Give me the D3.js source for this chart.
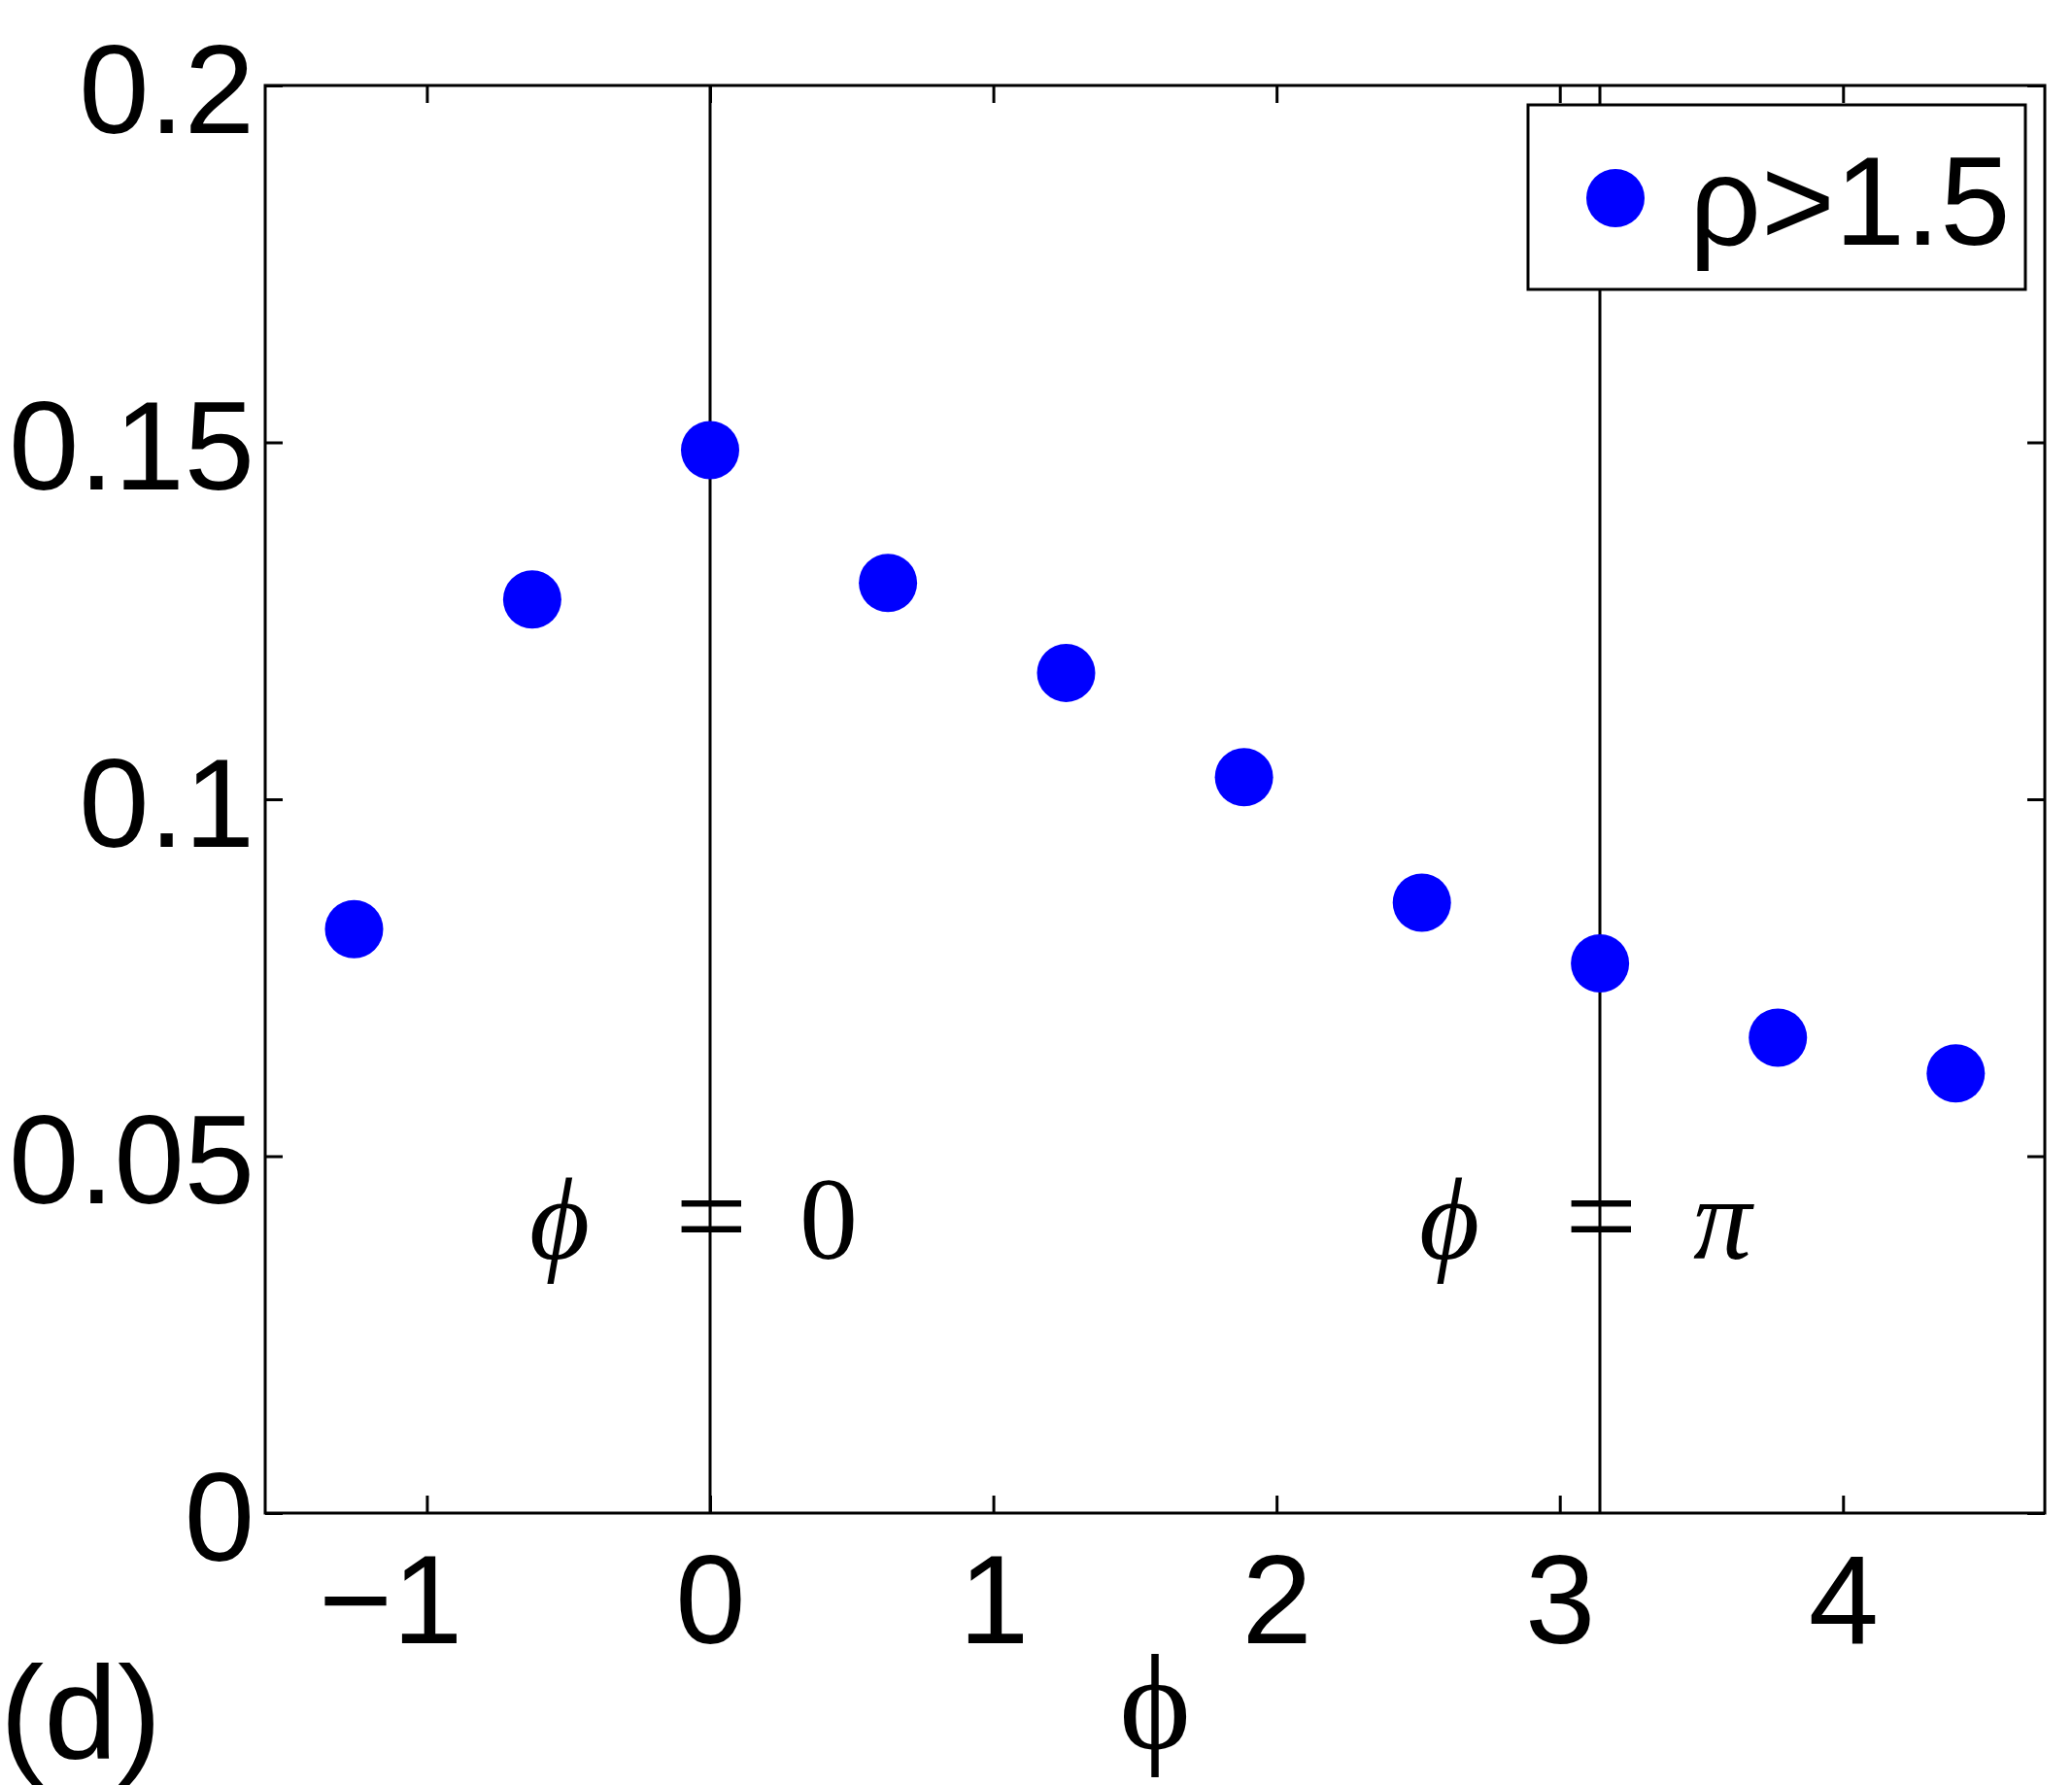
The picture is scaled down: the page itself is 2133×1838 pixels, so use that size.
<!DOCTYPE html>
<html>
<head>
<meta charset="utf-8">
<script src="https://cdn.jsdelivr.net/npm/d3@7"></script>
<style>
  body { margin: 0; background: #fff; }
  svg { display: block; }
</style>
</head>
<body>
<div id="maViz"></div>
<script>
// donnees (d)
const phiValues = [-1.257, -0.628, 0, 0.628, 1.257, 1.885, 2.513, 3.142, 3.770, 4.398];
const fracValues = [0.0818, 0.128, 0.1489, 0.1303, 0.1177, 0.1031, 0.0855, 0.0770, 0.0666, 0.0616];
const xTicks = [-1, 0, 1, 2, 3, 4];
const yTicks = [0, 0.05, 0.1, 0.15, 0.2];
const yTickLabels = ["0", "0.05", "0.1", "0.15", "0.2"];
const refLines = [0, 3.1416];          // phi = 0 et phi = pi
const refLabels = ["0", "π"];
const legendLabel = "ρ>1.5";
const panelLabel = "(d)";

// dimensions
const W = 2133, H = 1838;
const margin = {top: 88, right: 28, bottom: 280, left: 273};
const width = W - margin.left - margin.right;
const height = H - margin.top - margin.bottom;
const blue = "#0000ff";
const sans = "'Liberation Sans', Arial, Helvetica, sans-serif";
const serif = "'Liberation Serif', 'DejaVu Serif', 'Times New Roman', serif";
const fs = 130;

const svg = d3.select("#maViz").append("svg")
    .attr("width", W).attr("height", H)
    .style("background", "#fff");

const g = svg.append("g")
    .attr("transform", `translate(${margin.left},${margin.top})`);

// echelles
const x = d3.scaleLinear().domain([-1.5708, 4.7124]).range([0, width]);
const y = d3.scaleLinear().domain([0, 0.2]).range([height, 0]);

// axes (ticks vers l'interieur)
const tick = 18;
const xAxis = g.append("g")
    .attr("transform", `translate(0,${height})`)
    .call(d3.axisBottom(x).tickValues(xTicks).tickSizeInner(-tick).tickSizeOuter(0)
      .tickPadding(42).tickFormat(d => d < 0 ? "−" + Math.abs(d) : String(d)));
xAxis.selectAll("text").filter(d => d < 0).attr("dx", "-0.29em");

const yAxis = g.append("g")
    .call(d3.axisLeft(y).tickValues(yTicks).tickSizeInner(-tick).tickSizeOuter(0)
      .tickPadding(11).tickFormat((d, i) => yTickLabels[i]));
yAxis.selectAll("text").attr("dy", "0.37em");

g.append("g")
    .call(d3.axisTop(x).tickValues(xTicks).tickSizeInner(-tick).tickSizeOuter(0).tickFormat(""));
g.append("g")
    .attr("transform", `translate(${width},0)`)
    .call(d3.axisRight(y).tickValues(yTicks).tickSizeInner(-tick).tickSizeOuter(0).tickFormat(""));

g.selectAll(".domain").remove();
g.selectAll(".tick line").attr("stroke", "#000").attr("stroke-width", 3);
g.selectAll(".tick text")
    .attr("fill", "#000")
    .style("font-family", sans)
    .style("font-size", fs + "px");

// cadre
g.append("rect")
    .attr("x", 0).attr("y", 0)
    .attr("width", width).attr("height", height)
    .attr("fill", "none").attr("stroke", "#000").attr("stroke-width", 3);

// lignes verticales phi = 0 et phi = pi
g.selectAll(".ref")
  .data(refLines)
  .join("line")
    .attr("x1", d => x(d)).attr("x2", d => x(d))
    .attr("y1", 0).attr("y2", height)
    .attr("stroke", "#000").attr("stroke-width", 3);

// annotations "phi = 0" / "phi = pi"
const annY = y(0.0356);
const ann = g.selectAll(".ann")
  .data(refLines)
  .join("text")
    .attr("y", annY)
    .style("font-family", serif)
    .style("font-size", "120px")
    .attr("fill", "#000");
ann.append("tspan").attr("x", d => x(d) - 186).style("font-style", "italic").text("ϕ");
ann.append("tspan").attr("x", d => x(d) - 36).style("font-size", "132px").text("=");
ann.append("tspan").attr("x", (d, i) => x(d) + (i === 0 ? 92 : 96))
    .style("font-style", (d, i) => i === 0 ? "normal" : "italic")
    .text((d, i) => refLabels[i]);

// points
g.selectAll(".pt")
  .data(phiValues)
  .join("circle")
    .attr("cx", d => x(d))
    .attr("cy", (d, i) => y(fracValues[i]))
    .attr("r", 30)
    .attr("fill", blue);

// legende
const leg = g.append("g").attr("transform", `translate(${width - 20 - 512},20)`);
leg.append("rect")
    .attr("width", 512).attr("height", 190)
    .attr("fill", "#fff").attr("stroke", "#000").attr("stroke-width", 3);
leg.append("circle").attr("cx", 90).attr("cy", 96).attr("r", 30).attr("fill", blue);
leg.append("text")
    .attr("x", 166).attr("y", 144)
    .style("font-family", sans).style("font-size", fs + "px")
    .text(legendLabel);

// titre axe x
svg.append("text")
    .attr("x", 1189).attr("y", 1800)
    .attr("text-anchor", "middle")
    .style("font-family", serif).style("font-size", "140px")
    .text("ϕ");

// lettre du panneau
svg.append("text")
    .attr("x", 0).attr("y", 1810)
    .style("font-family", sans).style("font-size", "136px")
    .text(panelLabel);
</script>
</body>
</html>
